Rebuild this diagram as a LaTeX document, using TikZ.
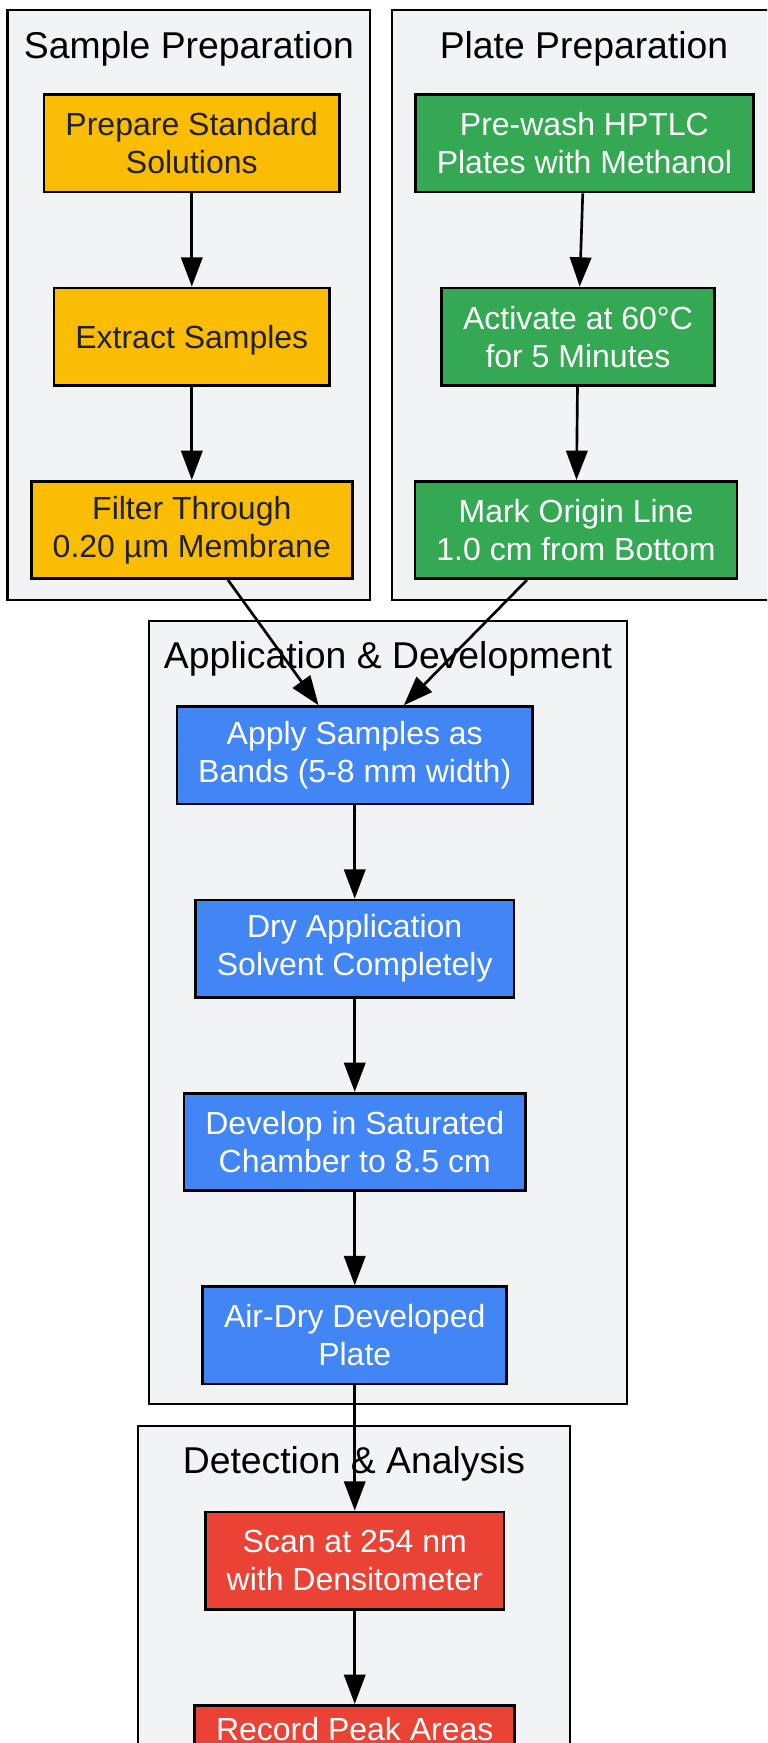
\documentclass[tikz,border=0pt]{standalone}
\usepackage{fontspec}
\setmainfont{Liberation Sans}
\usepackage{tikz}
\usetikzlibrary{arrows.meta,fit}
\usetikzlibrary{positioning}

\definecolor{clustergrey}{HTML}{F1F3F4}
\definecolor{sampleyellow}{HTML}{FBBC04}
\definecolor{plategreen}{HTML}{34A853}
\definecolor{applyblue}{HTML}{4285F4}
\definecolor{detectred}{HTML}{EA4335}
\definecolor{darktext}{HTML}{202124}

\begin{document}
\begin{tikzpicture}[x=0.375pt,y=-0.375pt,->,>={Triangle[length=11pt,width=8pt]},
                    line width=1pt,node distance=35pt,
                    every text node part/.style={align=center}]
  \tikzstyle{stepbox}=[draw=black,rectangle,minimum height=36.5pt,inner xsep=8pt,
                       font=\fontsize{12}{14.2}\selectfont,text=white,
                       execute at begin node={\rule{0pt}{11.3pt}}]
  \tikzstyle{cluster}=[draw=black,fill=clustergrey,rectangle,inner sep=0pt]
  \tikzstyle{title}=[font=\fontsize{14}{16}\selectfont,text=black]

    \useasboundingbox (0,0) rectangle (767,1743);
    \clip (0,0) rectangle (767,1743);

    % clusters
    \node[cluster, fit={(7.8,10) (370,600)}]     (samplebox) {};
    \node[cluster, fit={(392,10) (776,600)}]     (platebox)  {};
    \node[cluster, fit={(149,621) (627,1404)}]   (appbox)    {};
    \node[cluster, fit={(138,1426) (570,1800)}]  (detectbox) {};
    \node[title] (sampletitle) at ([yshift=-14.9pt]samplebox.north) {Sample Preparation};
    \node[title] (platetitle)  at ([yshift=-14.9pt]platebox.north)  {Plate Preparation};
    \node[title] (apptitle)    at ([yshift=-14.8pt]appbox.north)    {Application \& Development};
    \node[title] (detecttitle) at ([yshift=-14.7pt]detectbox.north) {Detection \& Analysis};

    \node[stepbox, fill=sampleyellow, text=darktext] (prep) at (191.8,143.3) {Prepare Standard\\ Solutions};
    \node[stepbox, fill=sampleyellow, text=darktext] (extract) [below = of prep] {Extract Samples};
    \node[stepbox, fill=sampleyellow, text=darktext] (filter) [below = of extract] {Filter Through\\ 0.20 µm Membrane};

    \node[stepbox, fill=plategreen] (prewash) [right = 27.5pt of prep] {Pre-wash HPTLC\\ Plates with Methanol};
    \node[stepbox, fill=plategreen] (activate) [below = of prewash, xshift=-2.4pt] {Activate at 60°C\\ for 5 Minutes};
    \node[stepbox, fill=plategreen] (mark) [below = of activate, xshift=-0.75pt] {Mark Origin Line\\ 1.0 cm from Bottom};

    \node[stepbox, fill=applyblue] (apply) [below = 47pt of filter, xshift=61.1pt] {Apply Samples as\\ Bands (5-8 mm width)};
    \node[stepbox, fill=applyblue] (dry) [below = of apply] {Dry Application\\ Solvent Completely};
    \node[stepbox, fill=applyblue] (develop) [below = of dry] {Develop in Saturated\\ Chamber to 8.5 cm};
    \node[stepbox, fill=applyblue] (airdry) [below = of develop] {Air-Dry Developed\\ Plate};

    \node[stepbox, fill=detectred] (scan) [below = 47pt of airdry] {Scan at 254 nm\\ with Densitometer};
    \node[stepbox, fill=detectred] (record) [below = of scan] {Record Peak Areas\\ \strut};

  \path (prep) edge (extract)
        (extract) edge (filter)
        (prewash) edge (activate)
        (activate) edge (mark)
        (filter) edge (apply)
        (mark) edge (apply)
        (apply) edge (dry)
        (dry) edge (develop)
        (develop) edge (airdry)
        (airdry) edge (scan)
        (scan) edge (record);

\end{tikzpicture}
\end{document}
